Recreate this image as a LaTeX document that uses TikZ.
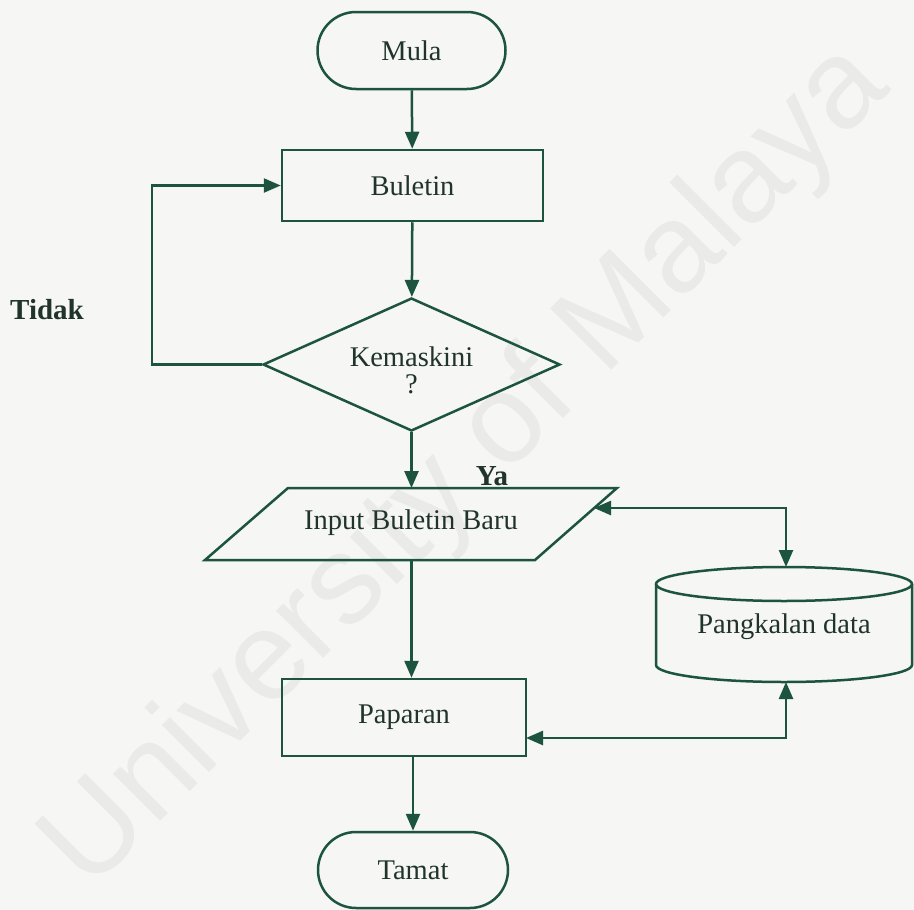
\documentclass[tikz,border=0pt]{standalone}
\usepackage{fontspec}
\setmainfont{Liberation Serif}
\newfontfamily\wmfont{Liberation Sans}
\usetikzlibrary{shapes.geometric,shapes.misc,arrows.meta}
\definecolor{linecol}{RGB}{28,84,64}
\definecolor{txtcol}{RGB}{32,52,44}
\definecolor{bgcol}{RGB}{246,246,244}
\definecolor{wmcol}{RGB}{234,234,233}
\tikzset{
  flow/.style={draw=linecol, line width=2.5pt, text=txtcol, inner sep=0pt,
               font=\fontsize{28.5}{27}\selectfont},
  terminal/.style={flow, rounded rectangle},
  process/.style={flow, rectangle},
  decision/.style={flow, diamond},
  label/.style={text=txtcol, inner sep=0pt, align=center, font=\fontsize{28.5}{27}\selectfont},
  tag/.style={text=txtcol, inner sep=0pt, font=\fontsize{29}{30}\selectfont\bfseries},
  arr/.style={draw=linecol, line width=2.5pt, -{Triangle[length=17pt,width=14pt]}},
  arrboth/.style={draw=linecol, line width=2.5pt,
                  {Triangle[length=17pt,width=14pt]}-{Triangle[length=17pt,width=14pt]}},
  shapeline/.style={draw=linecol, line width=2.5pt, line join=miter}
}
\begin{document}
\begin{tikzpicture}[x=1pt,y=-1pt]
  % canvas
  \fill[bgcol] (0,0) rectangle (914,910);
  \useasboundingbox (0,0) rectangle (914,910);

  % watermark
  \node[text=wmcol, rotate=45, inner sep=0pt, font=\wmfont\fontsize{126}{126}\selectfont]
    (wm) at (468,468) {University of Malaya};

  % main column
  \node[terminal, minimum width=188pt, minimum height=77pt] (mula) at (411.5,50.5) {Mula};
  \node[process, minimum width=261pt, minimum height=71pt] (buletin) at (412.5,185.5) {Buletin};
  \node[decision, minimum width=297pt, minimum height=133pt, aspect=2.23] (kemas) at (411.5,364.5) {};
  \node[label] (kemasText) at (411.5,370) {Kemaskini\\?};

  % input parallelogram
  \coordinate (pBL) at (205,560);
  \coordinate (pBR) at (535,560);
  \coordinate (pTR) at (617,488);
  \coordinate (pTL) at (288,488);
  \draw[shapeline] (pBL) -- (pBR) -- (pTR) -- (pTL) -- cycle;
  \node[label] (input) at (411,523) {Input Buletin Baru};
  \coordinate (inTop) at (411.5,488);
  \coordinate (inBot) at (411.5,560);
  \coordinate (inRight) at (594,508);

  \node[process, minimum width=244pt, minimum height=77pt] (paparan) at (404,717.5) {Paparan};
  \node[terminal, minimum width=190pt, minimum height=76pt] (tamat) at (413,870) {Tamat};

  % database cylinder
  \draw[shapeline] (656,584) -- (656,665) arc[start angle=180, end angle=360, x radius=128, y radius=-17]
    -- (912,584);
  \draw[shapeline] (784,584) ellipse[x radius=128, y radius=17];
  \node[label] (db) at (784,627) {Pangkalan data};
  \coordinate (dbTop) at (786,567);
  \coordinate (dbBot) at (786,682);
  \coordinate (papRight) at (526,738);

  % connectors
  \draw[arr] (mula) -- (buletin);
  \draw[arr] (buletin) -- (kemas);
  \draw[arr] (kemas.west) -- (152,364.5) |- (buletin.west);
  \draw[arr] (kemas.south) -- (inTop);
  \draw[arr] (inBot) -- (inBot |- paparan.north);
  \draw[arr] (paparan.south -| tamat) -- (tamat.north);
  \draw[arrboth] (inRight) -| (dbTop);
  \draw[arrboth] (papRight) -| (dbBot);

  % branch labels
  \node[tag] (tidak) at (47,310) {Tidak};
  \node[tag] (ya) at (492,476) {Ya};
\end{tikzpicture}
\end{document}
